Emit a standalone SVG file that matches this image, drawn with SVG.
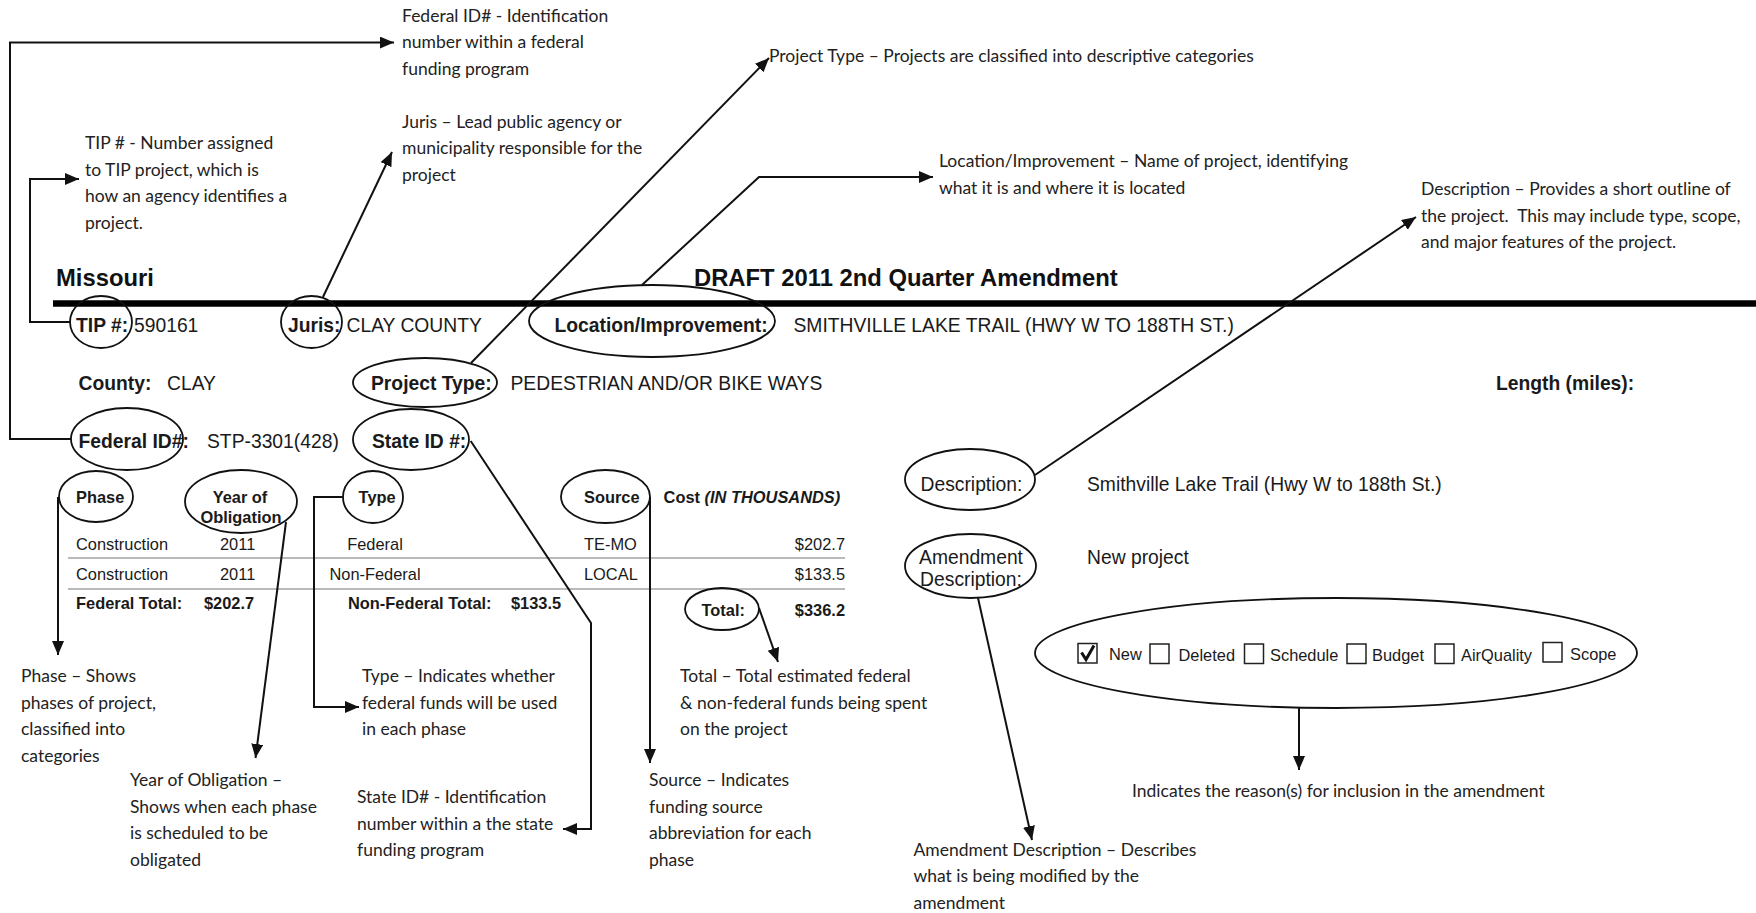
<svg xmlns="http://www.w3.org/2000/svg" width="1756" height="913" viewBox="0 0 1756 913">
<style>
.ann{font-family:Lato,"Open Sans",sans-serif;font-size:17.5px;fill:#222}
.f{font-family:"Liberation Sans",Arial,sans-serif;font-size:19.3px;fill:#1a1a1a}
.fb{font-family:"Liberation Sans",Arial,sans-serif;font-size:19.3px;font-weight:bold;fill:#1a1a1a}
.t{font-family:"Liberation Sans",Arial,sans-serif;font-size:16.4px;fill:#1a1a1a}
.tb{font-family:"Liberation Sans",Arial,sans-serif;font-size:16.4px;font-weight:bold;fill:#1a1a1a}
.h{font-family:"Liberation Sans",Arial,sans-serif;font-size:23.8px;font-weight:bold;fill:#111}
.el{fill:none;stroke:#111;stroke-width:1.8}
.cn{fill:none;stroke:#111;stroke-width:2}
.ar{marker-end:url(#ah)}
.grey{stroke:#a3a3a3;stroke-width:1.6}
.cb{fill:#fff;stroke:#222;stroke-width:1.5}
</style>
<defs>
<marker id="ah" markerUnits="userSpaceOnUse" markerWidth="16" markerHeight="14" refX="14" refY="6" orient="auto">
<path d="M0,0 L14,6 L0,12 z" fill="#111"/>
</marker>
</defs>
<rect width="1756" height="913" fill="#fff"/>

<!-- Header -->
<g id="header">
<text class="h" x="56" y="286">Missouri</text>
<text class="h" x="694" y="286">DRAFT 2011 2nd Quarter Amendment</text>
<line x1="53" y1="303.5" x2="1756" y2="303.5" stroke="#000" stroke-width="6.5"/>
</g>

<!-- Form fields -->
<g id="tip">
<ellipse class="el" cx="101" cy="322" rx="31" ry="26"/>
<text class="fb" x="76" y="332">TIP #:</text>
<text class="f" x="134" y="332">590161</text>
</g>
<g id="juris">
<ellipse class="el" cx="311.5" cy="322" rx="30.5" ry="26"/>
<text class="fb" x="288" y="332">Juris:</text>
<text class="f" x="346.5" y="332">CLAY COUNTY</text>
</g>
<g id="location">
<ellipse class="el" cx="652" cy="321" rx="123" ry="36"/>
<text class="fb" x="554.5" y="332">Location/Improvement:</text>
<text class="f" x="793.5" y="332">SMITHVILLE LAKE TRAIL (HWY W TO 188TH ST.)</text>
</g>
<g id="county">
<text class="fb" x="78.5" y="390">County:</text>
<text class="f" x="167" y="390">CLAY</text>
</g>
<g id="project-type">
<ellipse class="el" cx="425" cy="382.5" rx="72" ry="24.5"/>
<text class="fb" x="371" y="390">Project Type:</text>
<text class="f" x="510.5" y="390">PEDESTRIAN AND/OR BIKE WAYS</text>
</g>
<g id="length">
<text class="fb" x="1496" y="390">Length (miles):</text>
</g>
<g id="federal-id">
<ellipse class="el" cx="127" cy="439" rx="56" ry="31"/>
<text class="fb" x="78.5" y="448">Federal ID#:</text>
<text class="f" x="207" y="448">STP-3301(428)</text>
</g>
<g id="state-id">
<ellipse class="el" cx="411" cy="439.5" rx="58" ry="30.5"/>
<text class="fb" x="372" y="448">State ID #:</text>
</g>

<!-- Funding table -->
<g id="phase">
<ellipse class="el" cx="96" cy="496.5" rx="37" ry="25.5"/>
<text class="tb" x="76" y="503">Phase</text>
</g>
<g id="year-of-obligation">
<ellipse class="el" cx="241" cy="501.5" rx="56" ry="31.5"/>
<text class="tb" x="240" y="503" text-anchor="middle">Year of</text>
<text class="tb" x="241" y="523" text-anchor="middle">Obligation</text>
</g>
<g id="type">
<ellipse class="el" cx="373" cy="497" rx="30" ry="26"/>
<text class="tb" x="358.6" y="503">Type</text>
</g>
<g id="source">
<ellipse class="el" cx="605.5" cy="496.5" rx="44.5" ry="26.5"/>
<text class="tb" x="584" y="503">Source</text>
</g>
<g id="cost">
<text class="tb" x="663.6" y="503">Cost <tspan font-style="italic">(IN THOUSANDS)</tspan></text>
</g>
<g id="table-rows">
<text class="t" x="76" y="549.5">Construction</text>
<text class="t" x="220" y="549.5">2011</text>
<text class="t" x="375" y="549.5" text-anchor="middle">Federal</text>
<text class="t" x="584" y="549.5">TE-MO</text>
<text class="t" x="845" y="549.5" text-anchor="end">$202.7</text>
<line class="grey" x1="68" y1="558" x2="845" y2="558"/>
<text class="t" x="76" y="580">Construction</text>
<text class="t" x="220" y="580">2011</text>
<text class="t" x="375" y="580" text-anchor="middle">Non-Federal</text>
<text class="t" x="584" y="580">LOCAL</text>
<text class="t" x="845" y="580" text-anchor="end">$133.5</text>
<line class="grey" x1="68" y1="589" x2="845" y2="589"/>
<text class="tb" x="76" y="609">Federal Total:</text>
<text class="tb" x="204" y="609">$202.7</text>
<text class="tb" x="348" y="609">Non-Federal Total:</text>
<text class="tb" x="511" y="609">$133.5</text>
<text class="tb" x="845" y="616" text-anchor="end">$336.2</text>
</g>
<g id="total">
<ellipse class="el" cx="722" cy="609" rx="37" ry="21"/>
<text class="tb" x="701.5" y="616">Total:</text>
</g>

<!-- Right side -->
<g id="description">
<ellipse class="el" cx="970" cy="479.5" rx="65" ry="30.5"/>
<text class="f" x="920.5" y="491">Description:</text>
<text class="f" x="1087" y="491">Smithville Lake Trail (Hwy W to 188th St.)</text>
</g>
<g id="amendment-description">
<ellipse class="el" cx="970.5" cy="566" rx="65.5" ry="32"/>
<text class="f" x="971" y="564" text-anchor="middle">Amendment</text>
<text class="f" x="971" y="586" text-anchor="middle">Description:</text>
<text class="f" x="1087" y="564">New project</text>
</g>
<g id="reasons">
<ellipse class="el" cx="1336" cy="653" rx="301" ry="55"/>
<rect class="cb" x="1078" y="643.5" width="19" height="19.5"/>
<path d="M1081.5,652.5 L1086,659.5 L1094,645.5" fill="none" stroke="#111" stroke-width="3"/>
<text class="t" x="1109" y="659.5">New</text>
<rect class="cb" x="1150" y="644" width="19" height="19.5"/>
<text class="t" x="1178.5" y="661">Deleted</text>
<rect class="cb" x="1244.5" y="644" width="19" height="19.5"/>
<text class="t" x="1270" y="661">Schedule</text>
<rect class="cb" x="1347" y="644" width="19" height="19.5"/>
<text class="t" x="1372" y="661">Budget</text>
<rect class="cb" x="1435" y="644" width="19" height="19.5"/>
<text class="t" x="1461" y="661">AirQuality</text>
<rect class="cb" x="1543" y="642.5" width="19" height="19.5"/>
<text class="t" x="1570" y="659.5">Scope</text>
</g>

<!-- Annotations -->
<g id="note-federal-id">
<text class="ann" x="402" y="21.5">Federal ID# - Identification</text>
<text class="ann" x="402" y="48">number within a federal</text>
<text class="ann" x="402" y="74.5">funding program</text>
</g>
<g id="note-tip">
<text class="ann" x="85" y="149">TIP # - Number assigned</text>
<text class="ann" x="85" y="175.5">to TIP project, which is</text>
<text class="ann" x="85" y="202">how an agency identifies a</text>
<text class="ann" x="85" y="228.5">project.</text>
</g>
<g id="note-juris">
<text class="ann" x="402" y="127.5">Juris – Lead public agency or</text>
<text class="ann" x="402" y="154">municipality responsible for the</text>
<text class="ann" x="402" y="180.5">project</text>
</g>
<g id="note-project-type">
<text class="ann" x="769" y="61.5">Project Type – Projects are classified into descriptive categories</text>
</g>
<g id="note-location">
<text class="ann" x="939" y="167">Location/Improvement – Name of project, identifying</text>
<text class="ann" x="939" y="193.5">what it is and where it is located</text>
</g>
<g id="note-description">
<text class="ann" x="1421" y="195">Description – Provides a short outline of</text>
<text class="ann" x="1421" y="221.5">the project.&#160; This may include type, scope,</text>
<text class="ann" x="1421" y="248">and major features of the project.</text>
</g>
<g id="note-phase">
<text class="ann" x="21" y="682">Phase – Shows</text>
<text class="ann" x="21" y="708.5">phases of project,</text>
<text class="ann" x="21" y="735">classified into</text>
<text class="ann" x="21" y="761.5">categories</text>
</g>
<g id="note-year">
<text class="ann" x="130" y="786">Year of Obligation –</text>
<text class="ann" x="130" y="812.5">Shows when each phase</text>
<text class="ann" x="130" y="839">is scheduled to be</text>
<text class="ann" x="130" y="865.5">obligated</text>
</g>
<g id="note-type">
<text class="ann" x="362" y="682">Type – Indicates whether</text>
<text class="ann" x="362" y="708.5">federal funds will be used</text>
<text class="ann" x="362" y="735">in each phase</text>
</g>
<g id="note-state-id">
<text class="ann" x="357" y="803">State ID# - Identification</text>
<text class="ann" x="357" y="829.5">number within a the state</text>
<text class="ann" x="357" y="856">funding program</text>
</g>
<g id="note-source">
<text class="ann" x="649" y="786">Source – Indicates</text>
<text class="ann" x="649" y="812.5">funding source</text>
<text class="ann" x="649" y="839">abbreviation for each</text>
<text class="ann" x="649" y="865.5">phase</text>
</g>
<g id="note-total">
<text class="ann" x="680" y="682">Total – Total estimated federal</text>
<text class="ann" x="680" y="708.5">&amp; non-federal funds being spent</text>
<text class="ann" x="680" y="735">on the project</text>
</g>
<g id="note-amendment">
<text class="ann" x="913.5" y="855.5">Amendment Description – Describes</text>
<text class="ann" x="913.5" y="882">what is being modified by the</text>
<text class="ann" x="913.5" y="908.5">amendment</text>
</g>
<g id="note-reasons">
<text class="ann" x="1132" y="796.5">Indicates the reason(s) for inclusion in the amendment</text>
</g>

<!-- Connectors -->
<g id="connectors">
<polyline class="cn ar" points="71,439 10,439 10,42.6 394,42.6"/>
<polyline class="cn ar" points="71,322 30,322 30,179 79,179"/>
<line class="cn ar" x1="323" y1="297" x2="392" y2="152"/>
<line class="cn ar" x1="471" y1="363" x2="769" y2="58"/>
<polyline class="cn ar" points="642,285 759,177 933,177"/>
<line class="cn ar" x1="1035" y1="475" x2="1416" y2="217"/>
<polyline class="cn ar" points="470.7,441 591,623 591,829 563,829"/>
<line class="cn ar" x1="58" y1="497" x2="58" y2="655"/>
<line class="cn ar" x1="286" y1="522" x2="255.5" y2="758"/>
<polyline class="cn ar" points="343,497 314,497 314,707 359,707"/>
<line class="cn ar" x1="650" y1="497" x2="650" y2="763"/>
<line class="cn ar" x1="759" y1="608" x2="778" y2="662"/>
<line class="cn ar" x1="978" y1="598" x2="1032" y2="840"/>
<line class="cn ar" x1="1299" y1="708" x2="1299" y2="770"/>
</g>
</svg>
